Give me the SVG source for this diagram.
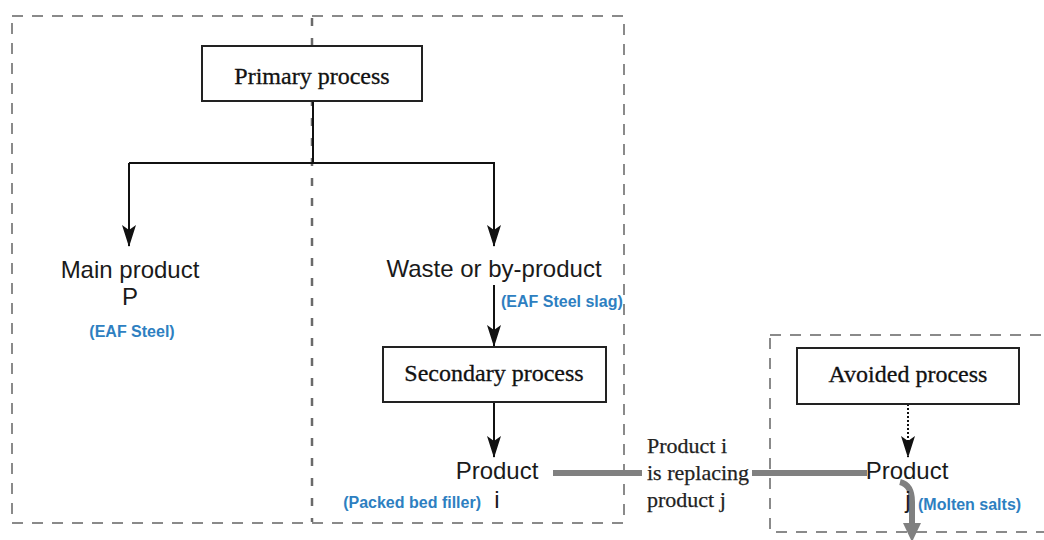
<svg xmlns="http://www.w3.org/2000/svg" width="1044" height="540" viewBox="0 0 1044 540">
  <style>
    .serif { font-family: "Liberation Serif", "Times New Roman", serif; font-size: 24px; fill: #111; stroke: #111; stroke-width: 0.3; }
    .serif-sm { font-family: "Liberation Serif", "Times New Roman", serif; font-size: 22px; fill: #222; stroke: #222; stroke-width: 0.25; }
    .sans { font-family: "Liberation Sans", Arial, sans-serif; font-size: 24px; fill: #1a1a1a; }
    .note { font-family: "Liberation Sans", Arial, sans-serif; font-size: 16px; font-weight: bold; fill: #2e7fc1; }
    .boundary { fill: none; stroke: #8a8a8a; stroke-width: 2; stroke-dasharray: 11 9; }
    .divider { fill: none; stroke: #6a6a6a; stroke-width: 2.5; stroke-dasharray: 8 12; }
    .box { fill: #fff; stroke: #222; stroke-width: 2; }
    .flow { fill: none; stroke: #111; stroke-width: 2; }
    .dotted { fill: none; stroke: #111; stroke-width: 2; stroke-dasharray: 2 2; }
    .subst { fill: none; stroke: #808080; stroke-width: 6; }
  </style>
  <defs>
    <marker id="arrow" markerUnits="userSpaceOnUse" markerWidth="22" markerHeight="14" refX="21" refY="7" orient="auto" viewBox="0 0 22 14">
      <path d="M0,0 L22,7 L0,14 L5,7 z" fill="#111"/>
    </marker>
  </defs>

  <rect width="1044" height="540" fill="#fff"/>

  <!-- system boundaries -->
  <g id="boundaries">
    <rect class="boundary" x="12" y="16" width="612" height="507"/>
    <line class="divider" x1="312" y1="18" x2="312" y2="522"/>
    <rect class="boundary" x="770" y="335" width="300" height="197"/>
  </g>

  <!-- connectors -->
  <g id="connectors">
    <path class="flow" d="M313 101 V163 M129 163 H495"/>
    <path class="flow" d="M129 163 V246" marker-end="url(#arrow)"/>
    <path class="flow" d="M494 163 V246" marker-end="url(#arrow)"/>
    <path class="flow" d="M494 285 V346" marker-end="url(#arrow)"/>
    <path class="flow" d="M494 402 V457" marker-end="url(#arrow)"/>
    <path class="dotted" d="M908 404 V457" marker-end="url(#arrow)"/>
    <line class="subst" x1="553" y1="473" x2="642" y2="473"/>
    <line class="subst" x1="752" y1="473" x2="867" y2="473"/>
    <path class="subst" d="M900 482 Q912 485 912 502 V526"/>
    <polygon points="903,523 921,523 912,542" fill="#808080"/>
  </g>

  <g id="primary-process">
    <rect class="box" x="202" y="46" width="220" height="55"/>
    <text class="serif" x="312" y="84" text-anchor="middle">Primary process</text>
  </g>

  <g id="main-product">
    <text class="sans" x="130" y="278" text-anchor="middle">Main product</text>
    <text class="sans" x="130" y="305" text-anchor="middle">P</text>
    <text class="note" x="132" y="337" text-anchor="middle">(EAF Steel)</text>
  </g>

  <g id="waste">
    <text class="sans" x="494" y="277" text-anchor="middle">Waste or by-product</text>
    <text class="note" x="501" y="307">(EAF Steel slag)</text>
  </g>

  <g id="secondary-process">
    <rect class="box" x="383" y="347" width="223" height="55"/>
    <text class="serif" x="494" y="381" text-anchor="middle">Secondary process</text>
  </g>

  <g id="product-i">
    <text class="sans" x="497" y="479" text-anchor="middle">Product</text>
    <text class="sans" x="497" y="508" text-anchor="middle">i</text>
    <text class="note" x="481" y="508" text-anchor="end">(Packed bed filler)</text>
  </g>

  <g id="substitution-label">
    <text class="serif-sm" x="647" y="453">Product i</text>
    <text class="serif-sm" x="647" y="480">is replacing</text>
    <text class="serif-sm" x="647" y="507">product j</text>
  </g>

  <g id="avoided-process">
    <rect class="box" x="797" y="348" width="222" height="56"/>
    <text class="serif" x="908" y="382" text-anchor="middle">Avoided process</text>
  </g>

  <g id="product-j">
    <text class="sans" x="907" y="479" text-anchor="middle">Product</text>
    <text class="sans" x="908" y="508" text-anchor="middle">j</text>
    <text class="note" x="918" y="510">(Molten salts)</text>
  </g>
</svg>
